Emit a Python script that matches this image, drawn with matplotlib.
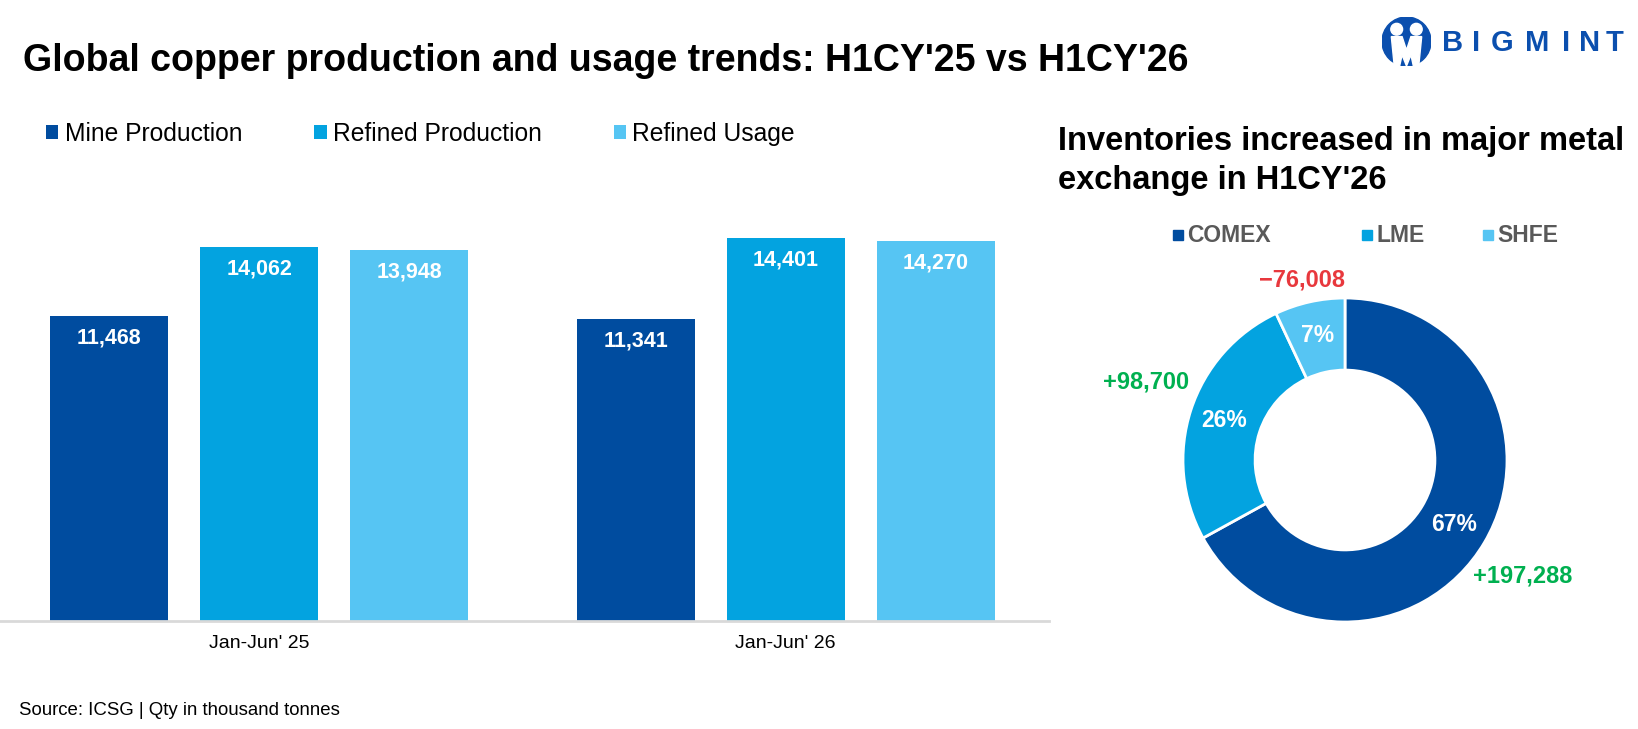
import numpy as np
import matplotlib
matplotlib.use('Agg')
import matplotlib.pyplot as plt
from matplotlib.patches import Circle, Rectangle, Polygon

plt.rcParams['font.family'] = ['Liberation Sans', 'DejaVu Sans']

# bar chart data (thousand tonnes)
periods = ["Jan-Jun' 25", "Jan-Jun' 26"]
bar_series = ['Mine Production', 'Refined Production', 'Refined Usage']
mine_production = [11468, 11341]
refined_production = [14062, 14401]
refined_usage = [13948, 14270]

# donut data
exchanges = ['COMEX', 'LME', 'SHFE']
shares = [67, 26, 7]
inventory_change = [197288, 98700, -76008]

colors = ['#004c9f', '#03a3e0', '#56c5f3']
green = '#00b050'
red = '#e8383d'
grey_txt = '#595959'
logo_blue = '#0b4fae'

W, H = 1638, 729
fig = plt.figure(figsize=(W / 100, H / 100), dpi=100)


def box(x0, y0, x1, y1):
    # pixel box measured from the top-left corner -> figure fraction
    return [x0 / W, 1 - y1 / H, (x1 - x0) / W, (y1 - y0) / H]


def fy(y):
    return 1 - y / H


# ---- bars ----
ax = fig.add_axes(box(0, 195, 1049, 621))
x = np.arange(len(periods))
bw = 0.224
step = 0.285
for i, vals in enumerate([mine_production, refined_production, refined_usage]):
    bars = ax.bar(x + (i - 1) * step, vals, bw, color=colors[i], label=bar_series[i])
    for b, v in zip(bars, vals):
        ax.annotate(f'{v:,}', (b.get_x() + b.get_width() / 2, v), xytext=(0, -16),
                    textcoords='offset points', ha='center', va='center',
                    color='white', fontsize=15.5, fontweight='bold')

ax.set_xlim(-0.492, 1.5)
ax.set_ylim(0, 16000)
ax.set_xticks(x)
ax.set_xticklabels(periods, fontsize=14)
ax.tick_params(axis='x', length=0, pad=10)
ax.set_yticks([])
for s in ['top', 'right', 'left']:
    ax.spines[s].set_visible(False)
ax.spines['bottom'].set_color('#d9d9d9')
ax.spines['bottom'].set_linewidth(2)

fig.legend(loc='center left', bbox_to_anchor=(46 / W, fy(134)), ncol=3, frameon=False,
           fontsize=17.7, handlelength=0.5, handleheight=0.5, handletextpad=0.26,
           columnspacing=2.93, borderaxespad=0, borderpad=0)

# ---- donut ----
ax2 = fig.add_axes(box(1183, 298, 1507, 622))
wedges, _ = ax2.pie(shares, colors=colors, startangle=90, counterclock=False,
                    wedgeprops=dict(width=0.445, edgecolor='white', linewidth=2))
ax2.set_xlim(-1, 1)
ax2.set_ylim(-1, 1)

label_dist = [1.31, 1.32, 1.14]
label_turn = [-2.5, -3.5, 0.8]  # small angular nudges, degrees
for wdg, pct, chg, d, t in zip(wedges, shares, inventory_change, label_dist, label_turn):
    mid = np.deg2rad((wdg.theta1 + wdg.theta2) / 2)
    ax2.text(0.785 * np.cos(mid), 0.785 * np.sin(mid), f'{pct}%', ha='center', va='center',
             color='white', fontsize=16.5, fontweight='bold')
    txt = f'+{chg:,}' if chg > 0 else f'\u2212{abs(chg):,}'
    a = mid + np.deg2rad(t)
    ax2.text(d * np.cos(a), d * np.sin(a), txt, ha='center', va='center',
             color=green if chg > 0 else red, fontsize=17, fontweight='bold', clip_on=False)

legend_x = [1173, 1362, 1483]
for name, c, lx in zip(exchanges, colors, legend_x):
    fig.add_artist(Rectangle((lx / W, fy(240)), 10 / W, 10 / H, color=c, transform=fig.transFigure))
    fig.text((lx + 14) / W, fy(236), name, ha='left', va='center', fontsize=16.5,
             fontweight='bold', color=grey_txt)

# ---- texts ----
fig.text(23 / W, fy(71), "Global copper production and usage trends: H1CY'25 vs H1CY'26",
         fontsize=27, fontweight='bold', va='baseline')
fig.text(1058 / W, fy(126), "Inventories increased in major metal\nexchange in H1CY'26",
         fontsize=23.5, fontweight='bold', va='top', linespacing=1.32)
fig.text(19 / W, fy(715), 'Source: ICSG | Qty in thousand tonnes', fontsize=13.4, va='baseline')

# ---- logo ----
lax = fig.add_axes(box(1382, 17, 1431, 66))
lax.set_xlim(-1, 1)
lax.set_ylim(-1, 1)
lax.axis('off')
lax.add_patch(Circle((0, 0), 1, color=logo_blue))
lax.add_patch(Circle((-0.4, 0.5), 0.24, color='white'))
lax.add_patch(Circle((0.4, 0.5), 0.24, color='white'))
lax.add_patch(Polygon([(-0.62, 0.2), (-0.18, 0.2), (0, -0.35), (0.18, 0.2), (0.62, 0.2),
                       (0.5, -1.0), (0.28, -1.0), (0.18, -0.55), (0, -1.0),
                       (-0.18, -0.55), (-0.28, -1.0), (-0.5, -1.0)], color='white'))
logo_x = [1453, 1476, 1502, 1537, 1566, 1590, 1615]
for ch, lx in zip('BIGMINT', logo_x):
    fig.text(lx / W, fy(43), ch, ha='center', va='center', fontsize=21,
             fontweight='bold', color=logo_blue)

fig.savefig('out.png', dpi=100)
